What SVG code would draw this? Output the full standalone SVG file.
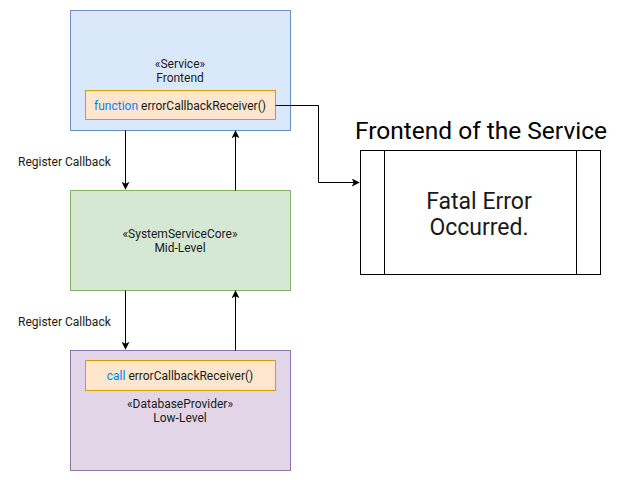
<svg xmlns="http://www.w3.org/2000/svg" width="631" height="481" viewBox="0 0 631 481">
<style>
text{font-family:Roboto,"Liberation Sans",sans-serif;fill:#1a1a1a}
.s{font-size:12px;text-anchor:middle}
.l{font-size:12px}
.b{font-size:23px;text-anchor:middle}
.t{font-size:24.5px;text-anchor:middle;fill:#000}
.kw{fill:#007fff}
.c{fill:none;stroke:#000;stroke-width:1}
.inner{fill:#ffe6cc;stroke:#d79b00}
</style>
<defs>
<marker id="a" viewBox="0 0 10 10" refX="9" refY="5" markerWidth="8" markerHeight="8" markerUnits="userSpaceOnUse" orient="auto">
<path d="M0,0 L10,5 L0,10 L2.5,5 Z" fill="#000"/>
</marker>
</defs>
<rect width="631" height="481" fill="#fff"/>
<g id="frontend">
<rect x="70.5" y="10.5" width="220" height="120" fill="#dae8fc" stroke="#6c8ebf"/>
<text class="s" x="180" y="67.5">«Service»</text>
<text class="s" x="180" y="81.5">Frontend</text>
<rect class="inner" x="85.5" y="90.5" width="190" height="29"/>
<text class="s" x="180" y="109.5"><tspan class="kw">function</tspan> errorCallbackReceiver()</text>
</g>
<g id="midlevel">
<rect x="70.5" y="190.5" width="220" height="100" fill="#d5e8d4" stroke="#82b366"/>
<text class="s" x="180" y="238">«SystemServiceCore»</text>
<text class="s" x="180" y="252">Mid-Level</text>
</g>
<g id="lowlevel">
<rect x="70.5" y="350.5" width="220" height="120" fill="#e1d5e7" stroke="#9673a6"/>
<rect class="inner" x="85.5" y="360.5" width="190" height="30"/>
<text class="s" x="180" y="380"><tspan class="kw">call</tspan> errorCallbackReceiver()</text>
<text class="s" x="180" y="408">«DatabaseProvider»</text>
<text class="s" x="180" y="422">Low-Level</text>
</g>
<g id="fatal">
<text class="t" x="481" y="139">Frontend of the Service</text>
<rect x="360.5" y="150.5" width="240" height="124" fill="#fff" stroke="#000"/>
<line x1="384.5" y1="150.5" x2="384.5" y2="274.5" stroke="#000"/>
<line x1="576.5" y1="150.5" x2="576.5" y2="274.5" stroke="#000"/>
<text class="b" x="479" y="209">Fatal Error</text>
<text class="b" x="479" y="235">Occurred.</text>
</g>
<g id="connectors">
<path class="c" d="M125.5,130.5 V189" marker-end="url(#a)"/>
<path class="c" d="M235.5,190.5 V131" marker-end="url(#a)"/>
<path class="c" d="M125.5,290.5 V349" marker-end="url(#a)"/>
<path class="c" d="M235.5,350.5 V291" marker-end="url(#a)"/>
<path class="c" d="M275.5,105.5 H318.5 V182.5 H359" marker-end="url(#a)"/>
<text class="l" x="18" y="166">Register Callback</text>
<text class="l" x="18" y="326">Register Callback</text>
</g>
</svg>
